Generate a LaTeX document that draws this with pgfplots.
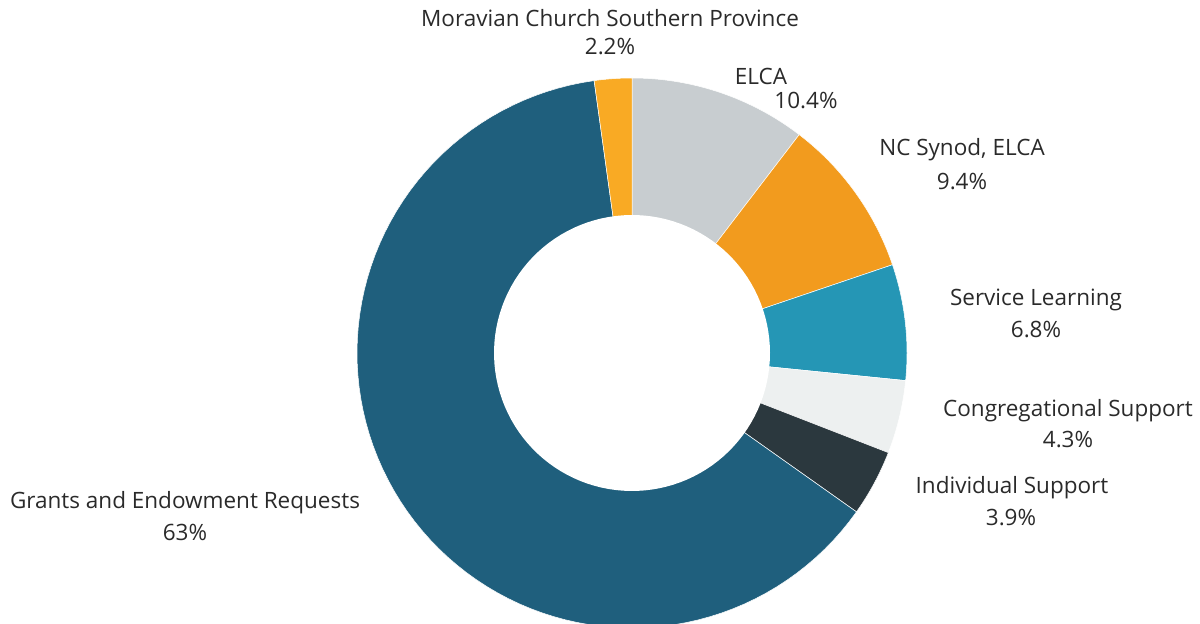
\documentclass[border=0pt]{standalone}
\usepackage{pgfplots}
\pgfplotsset{compat=1.18}
\usepackage{fontspec}
\setmainfont{Open Sans}

\definecolor{cGrants}{HTML}{1F5F7D}
\definecolor{cMoravian}{HTML}{F9AA24}
\definecolor{cELCA}{HTML}{C8CDD0}
\definecolor{cNCSynod}{HTML}{F29B1E}
\definecolor{cService}{HTML}{2596B5}
\definecolor{cCongreg}{HTML}{EDF0F0}
\definecolor{cIndiv}{HTML}{2B383E}
\definecolor{txt}{HTML}{2A2A2A}

% one donut slice: #1 = share already placed before it (%), #2 = share (%), #3 = colour
% slices run clockwise from 12 o'clock, centre (632,271), outer radius 275
\newcommand{\slice}[3]{%
  \addplot[fill=#3, draw=white, line width=0.5pt, domain={90-3.6*(#1+#2)}:{90-3.6*(#1)},
    samples=90, variable=\t]
    ({632+275*cos(\t)}, {271+275*sin(\t)}) -- (axis cs:632,271) -- cycle;
}

\begin{document}
\begin{tikzpicture}[lbl/.style={font=\fontsize{22.5}{27}\selectfont, text=txt, inner sep=0pt}]
\begin{axis}[
  width=1200pt, height=624pt, scale only axis,
  xmin=0, xmax=1200, ymin=0, ymax=624,
  hide axis,
]
% shares in %: ELCA 10.4, NC Synod 9.4, Service Learning 6.8,
% Congregational Support 4.3, Individual Support 3.9, Grants 63, Moravian 2.2
\slice{0}{10.4}{cELCA}
\slice{10.4}{9.4}{cNCSynod}
\slice{19.8}{6.8}{cService}
\slice{26.6}{4.3}{cCongreg}
\slice{30.9}{3.9}{cIndiv}
\slice{34.8}{63}{cGrants}
\slice{97.8}{2.2}{cMoravian}
% hole
\addplot[fill=white, draw=none, domain=0:360, samples=120, variable=\t]
  ({632+138*cos(\t)}, {271+138*sin(\t)}) -- cycle;

\node[lbl] at (axis cs:610,606) {Moravian Church Southern Province};
\node[lbl] at (axis cs:610,577) {2.2\%};
\node[lbl] at (axis cs:761,548) {ELCA};
\node[lbl] at (axis cs:806,523) {10.4\%};
\node[lbl] at (axis cs:962,474) {NC Synod, ELCA};
\node[lbl] at (axis cs:962,442) {9.4\%};
\node[lbl] at (axis cs:1036,324) {Service Learning};
\node[lbl] at (axis cs:1036,294) {6.8\%};
\node[lbl] at (axis cs:1068,213) {Congregational Support};
\node[lbl] at (axis cs:1068,184) {4.3\%};
\node[lbl] at (axis cs:1012,136) {Individual Support};
\node[lbl] at (axis cs:1011,106) {3.9\%};
\node[lbl] at (axis cs:185,121) {Grants and Endowment Requests};
\node[lbl] at (axis cs:185,92) {63\%};
\end{axis}
\pgfresetboundingbox
\path (current axis.south west) rectangle (current axis.north east);
\end{tikzpicture}
\end{document}
